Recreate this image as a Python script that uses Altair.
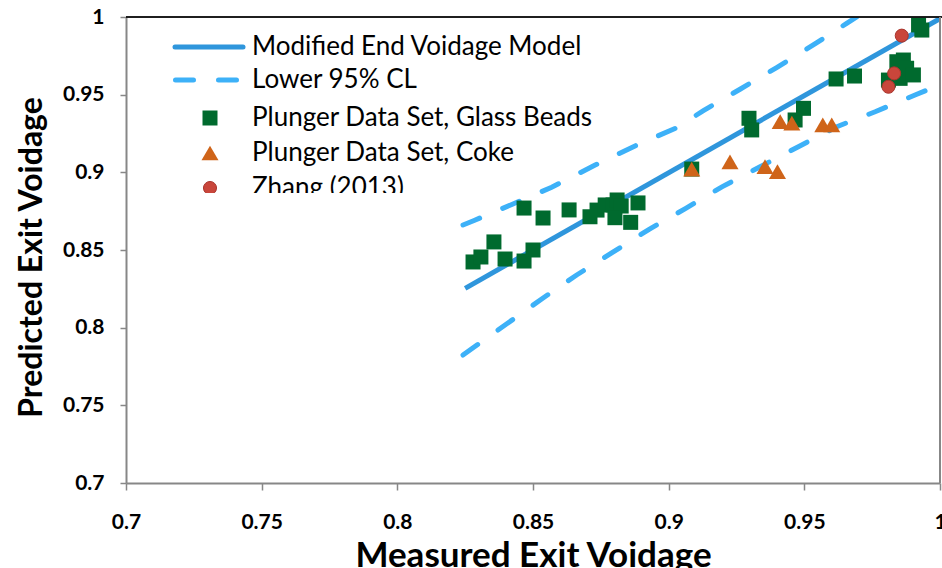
import altair as alt
import pandas as pd

# ---- data -------------------------------------------------------------
# Plunger data set, glass beads (measured, predicted)
gb_x = [0.8279, 0.8308, 0.8356, 0.8397, 0.8467, 0.8467, 0.8500, 0.8537, 0.8633,
        0.8710, 0.8736, 0.8766, 0.8795, 0.8810, 0.8825, 0.8802, 0.8860, 0.8887,
        0.9085, 0.9296, 0.9306, 0.9466, 0.9497, 0.9617, 0.9685,
        0.9810, 0.9841, 0.9853, 0.9865, 0.9877, 0.9902, 0.9921, 0.9933]
gb_y = [0.8423, 0.8455, 0.8552, 0.8442, 0.8770, 0.8429, 0.8500, 0.8706, 0.8758,
        0.8714, 0.8757, 0.8790, 0.8790, 0.8822, 0.8783, 0.8708, 0.8678, 0.8803,
        0.9021, 0.9348, 0.9273, 0.9337, 0.9412, 0.9601, 0.9620,
        0.9594, 0.9712, 0.9605, 0.9723, 0.9670, 0.9627, 0.9949, 0.9916]

# Plunger data set, coke
coke_x = [0.9085, 0.9226, 0.9355, 0.9401, 0.9411, 0.9454, 0.9568, 0.9601]
coke_y = [0.9020, 0.9068, 0.9036, 0.9004, 0.9326, 0.9316, 0.9305, 0.9305]

# Zhang (2013)
zhang_x = [0.9810, 0.9831, 0.9859]
zhang_y = [0.9551, 0.9637, 0.9880]

# Modified end voidage model
model_x = [0.825, 1.000]
model_y = [0.8253, 0.999]

# 95% confidence limits
upper_x = [0.8242, 0.8283, 0.8422, 0.8569, 0.8729, 0.8883, 0.9027, 0.9128,
           0.9263, 0.9398, 0.9533, 0.9656, 0.9693]
upper_y = [0.8661, 0.8690, 0.8793, 0.8904, 0.9047, 0.9176, 0.9285, 0.9397,
           0.9535, 0.9674, 0.9820, 0.9959, 1.0000]
lower_x = [0.8242, 0.8532, 0.8661, 0.8793, 0.8928, 0.9063, 0.9198, 0.9337,
           0.9478, 0.9620, 0.9761, 0.9908, 0.9945]
lower_y = [0.7824, 0.8185, 0.8339, 0.8485, 0.8633, 0.8768, 0.8908, 0.9036,
           0.9165, 0.9294, 0.9390, 0.9498, 0.9524]

x_ticks = [0.7, 0.75, 0.8, 0.85, 0.9, 0.95, 1.0]
y_ticks = [0.7, 0.75, 0.8, 0.85, 0.9, 0.95, 1.0]

legend_labels = ["Modified End Voidage Model", "Lower 95% CL",
                 "Plunger Data Set, Glass Beads", "Plunger Data Set, Coke",
                 "Zhang (2013)"]

# ---- styling ----------------------------------------------------------
FONT = "Lato"
GREEN = "#006A2E"
ORANGE = "#CF6419"
RED = "#C9463B"
SOLID_BLUE = "#2F96DC"
DASH_BLUE = "#3DB1F8"
AXIS_GREY = "#878787"

xs = alt.Scale(domain=[0.7, 1.0], nice=False, zero=False)
ys = alt.Scale(domain=[0.7, 1.0], nice=False, zero=False)

x_axis = alt.Axis(values=x_ticks, format=".2~f", title="Measured Exit Voidage",
                  grid=False, domainColor=AXIS_GREY, domainWidth=2,
                  tickColor=AXIS_GREY, tickWidth=1.5, tickSize=7,
                  labelFont=FONT, labelFontWeight="bold", labelFontSize=21,
                  labelColor="#000", labelPadding=21, labelFlush=False,
                  titleFont=FONT, titleFontWeight="bold", titleFontSize=35,
                  titleColor="#000", titlePadding=6)
y_axis = alt.Axis(values=y_ticks, format=".2~f", title="Predicted Exit Voidage",
                  grid=False, domainColor=AXIS_GREY, domainWidth=2,
                  tickColor=AXIS_GREY, tickWidth=1.5, tickSize=6,
                  labelFont=FONT, labelFontWeight="bold", labelFontSize=21,
                  labelColor="#000", labelPadding=16, labelFlush=False,
                  titleFont=FONT, titleFontWeight="bold", titleFontSize=32,
                  titleColor="#000", titlePadding=14, titleY=240)

def xy(axes=False):
    if axes:
        return dict(x=alt.X("x:Q", scale=xs, axis=x_axis),
                    y=alt.Y("y:Q", scale=ys, axis=y_axis))
    return dict(x=alt.X("x:Q", scale=xs), y=alt.Y("y:Q", scale=ys))

model_df = pd.DataFrame({"x": model_x, "y": model_y})
upper_df = pd.DataFrame({"x": upper_x, "y": upper_y})
lower_df = pd.DataFrame({"x": lower_x, "y": lower_y})
gb_df = pd.DataFrame({"x": gb_x, "y": gb_y})
coke_df = pd.DataFrame({"x": coke_x, "y": coke_y})
zhang_df = pd.DataFrame({"x": zhang_x, "y": zhang_y})

model_line = alt.Chart(model_df).mark_line(
    color=SOLID_BLUE, strokeWidth=5, strokeCap="butt", clip=True
).encode(**xy(axes=True))

dash_style = dict(color=DASH_BLUE, strokeWidth=5, strokeCap="round",
                  strokeDash=[18, 25], clip=True)
upper_line = alt.Chart(upper_df).mark_line(**dash_style).encode(**xy())
lower_line = alt.Chart(lower_df).mark_line(**dash_style).encode(**xy())

gb_pts = alt.Chart(gb_df).mark_point(
    shape="square", filled=True, size=225, color=GREEN, opacity=1
).encode(**xy())
coke_pts = alt.Chart(coke_df).mark_point(
    shape="triangle-up", filled=True, size=290, color=ORANGE, opacity=1
).encode(**xy())
zhang_pts = alt.Chart(zhang_df).mark_point(
    shape="circle", filled=True, size=170, fill=RED, stroke="#A8342C",
    strokeWidth=1, opacity=1
).encode(**xy())

# frame: black top edge, grey right edge
top_edge = alt.Chart(model_df).mark_rule(color="#111", strokeWidth=1.5).encode(
    x=alt.value(0), x2=alt.value(816), y=alt.value(0))
right_edge = alt.Chart(model_df).mark_rule(color=AXIS_GREY, strokeWidth=2).encode(
    x=alt.value(814), y=alt.value(0), y2=alt.value(466))

# ---- legend (drawn inside the plot, lower edge cut off) -----------------
LX_TEXT = 126   # offsets relative to plot origin
rows_y = [30, 63, 101, 136, 171]
one = pd.DataFrame({"k": [0]})

legend_layers = []
for lab, yy in zip(legend_labels, rows_y):
    legend_layers.append(
        alt.Chart(one).mark_text(
            text=lab, font=FONT, fontSize=26, color="#000",
            align="left", baseline="middle"
        ).encode(x=alt.value(LX_TEXT), y=alt.value(yy))
    )
legend_layers.append(
    alt.Chart(one).mark_rule(color=SOLID_BLUE, strokeWidth=5, strokeCap="round").encode(
        x=alt.value(49), x2=alt.value(117), y=alt.value(rows_y[0])))
legend_layers.append(
    alt.Chart(one).mark_rule(color=DASH_BLUE, strokeWidth=5, strokeCap="round",
                             strokeDash=[18, 25]).encode(
        x=alt.value(49.5), x2=alt.value(113), y=alt.value(rows_y[1])))
legend_layers.append(
    alt.Chart(one).mark_point(shape="square", filled=True, size=225, color=GREEN,
                              opacity=1).encode(x=alt.value(84), y=alt.value(rows_y[2])))
legend_layers.append(
    alt.Chart(one).mark_point(shape="triangle-up", filled=True, size=290, color=ORANGE,
                              opacity=1).encode(x=alt.value(84), y=alt.value(rows_y[3])))
legend_layers.append(
    alt.Chart(one).mark_point(shape="circle", filled=True, size=170, fill=RED,
                              stroke="#A8342C", strokeWidth=1, opacity=1).encode(
        x=alt.value(84), y=alt.value(rows_y[4])))
# the legend box ends here, hiding the lower part of its last entry
legend_layers.append(
    alt.Chart(one).mark_rect(color="white").encode(
        x=alt.value(20), x2=alt.value(330), y=alt.value(176), y2=alt.value(205)))

chart = alt.layer(
    model_line, upper_line, lower_line, gb_pts, coke_pts, zhang_pts,
    *legend_layers, top_edge, right_edge
).properties(
    width=814, height=466,
    padding={"left": 126, "top": 17, "right": 2, "bottom": 85},
    autosize=alt.AutoSizeParams(type="none"),
    background="white",
).configure_view(stroke=None)

chart.save("out.html", embed_options={"renderer": "svg", "actions": False})
